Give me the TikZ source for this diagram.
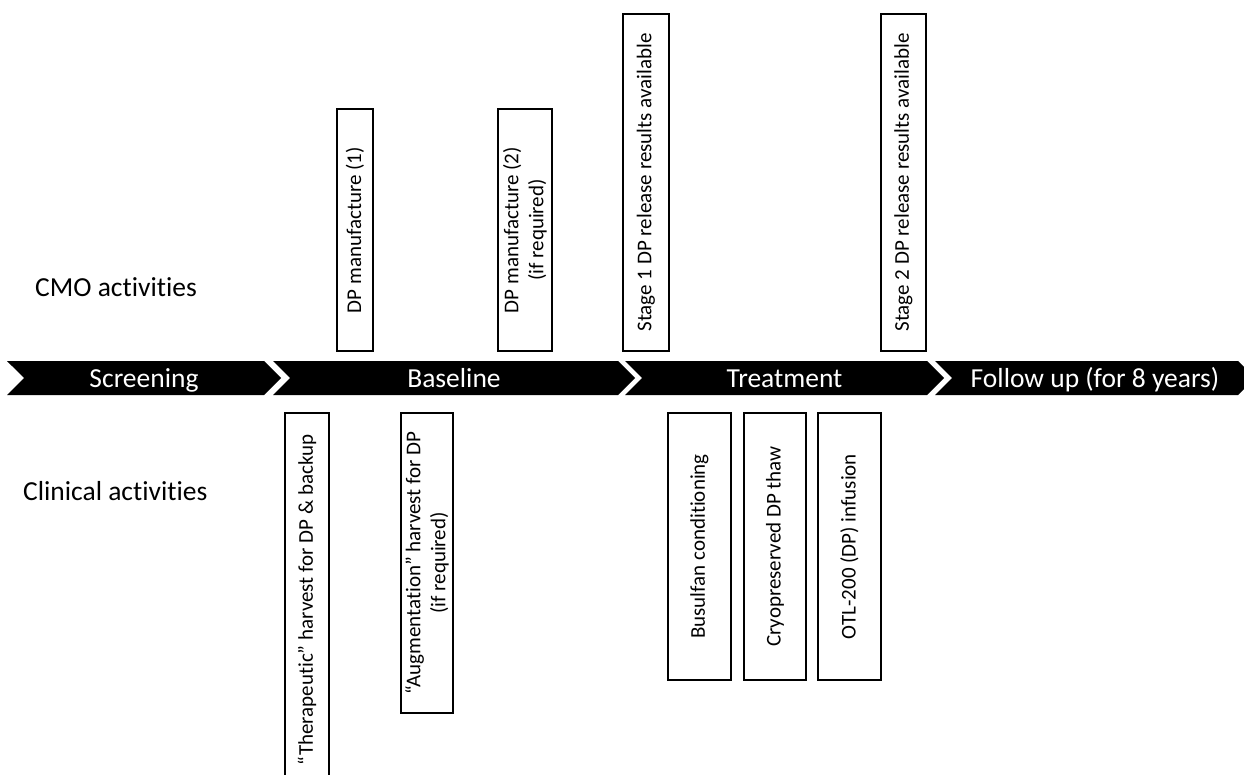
\documentclass[tikz,border=0pt]{standalone}
\usepackage{fontspec}
\setmainfont{Carlito}[Ligatures=NoCommon]
\usepackage{tikz}
\usetikzlibrary{shapes.symbols}
\newcommand{\bigfont}{\fontsize{27.5}{33}\selectfont}
\newcommand{\boxfont}{\fontsize{21}{25}\selectfont}
\tikzset{%
    phase/.style={
		signal, signal from=west, signal to=east,
		signal pointer angle=90,
		fill=black, text=white, inner sep=0pt, outer sep=0pt,
		text height=18pt, text depth=0pt,
		minimum height=34, font=\bigfont
	}
}
\tikzset{activity/.style={draw, line width=1.5pt, rotate=90, inner sep=0pt, align=center, font=\boxfont}}
\tikzset{rowlabel/.style={anchor=base west, inner sep=0pt, font=\bigfont}}

\begin{document}
\begin{tikzpicture}[x=1pt, y=-1pt]
		\useasboundingbox (0,0) rectangle (1244,775);

		% timeline
		\node[phase, minimum width=274] (screening) at (144,378) {Screening};
		\node[phase, minimum width=362] (baseline) at (454,378) {Baseline};
		\node[phase, minimum width=319] (treatment) at (784.5,378) {Treatment};
		\node[phase, minimum width=320] (followup) at (1095,378) {Follow up (for 8 years)};

		\node[rowlabel] (cmo) at (35,297) {CMO activities};
		\node[rowlabel] (clinical) at (23,500) {Clinical activities};

		% CMO activities
		\node[activity, minimum width=242, minimum height=36] (dpone) at (355,230) {DP manufacture (1)};
		\node[activity, minimum width=242, minimum height=54] (dptwo) at (525,230) {DP manufacture (2)\\(if required)};
		\node[activity, minimum width=337, minimum height=46] (stageone) at (646,182.5) {Stage 1 DP release results available};
		\node[activity, minimum width=337, minimum height=45] (stagetwo) at (903.5,182.5) {Stage 2 DP release results available};

		% clinical activities
		\node[activity, minimum width=374, minimum height=44] (therapeutic) at (307,600) {“Therapeutic” harvest for DP \& backup};
		\node[activity, minimum width=300, minimum height=52] (augmentation) at (427,563) {“Augmentation” harvest for DP\\(if required)};
		\node[activity, minimum width=267, minimum height=63] (busulfan) at (699.5,546.5) {Busulfan conditioning};
		\node[activity, minimum width=267, minimum height=62] (thaw) at (775,546.5) {Cryopreserved DP thaw};
		\node[activity, minimum width=267, minimum height=63] (infusion) at (849.5,546.5) {OTL-200 (DP) infusion};

	\end{tikzpicture}
\end{document}
